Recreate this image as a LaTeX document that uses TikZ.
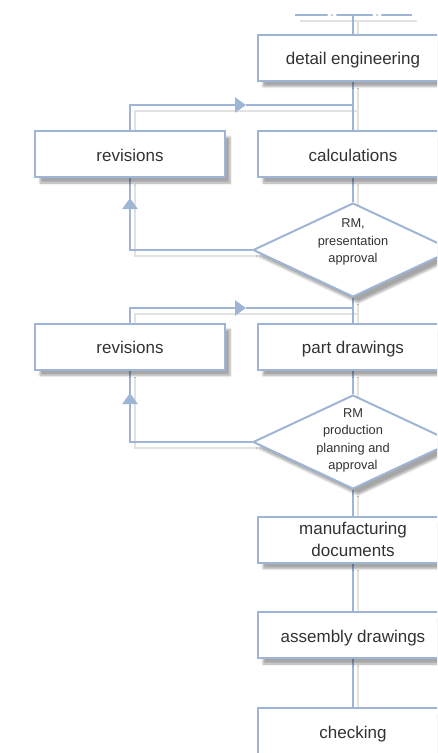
\documentclass[tikz,border=0pt]{standalone}
\usepackage{fontspec}
\setmainfont{Liberation Sans}
\usetikzlibrary{shapes.geometric,shadows.blur,arrows.meta}
\pgfdeclarelayer{background}
\pgfsetlayers{background,main}
\definecolor{ln}{RGB}{158,181,214}
\definecolor{tx}{RGB}{50,50,50}
\definecolor{sh}{RGB}{226,226,226}
\tikzset{
  shd/.style={blur shadow={shadow xshift=5pt, shadow yshift=-6pt, shadow blur steps=6, shadow opacity=35}},
  box/.style={draw=ln, line width=2pt, fill=white, minimum width=190pt, minimum height=46pt,
    inner sep=0pt, text=tx, font=\fontsize{17}{22}\selectfont, align=center, shd},
  oneline/.style={text height=15.5pt, text depth=1.1pt},
  dia/.style={draw=ln, line width=2pt, fill=white, diamond, minimum width=200pt,
    minimum height=94pt, inner sep=0pt, shd},
  dtext/.style={text=tx, font=\fontsize{12.8}{17.6}\selectfont, align=center, inner sep=0pt},
  conn/.style={draw=ln, line width=2.3pt},
  shconn/.style={draw=sh, line width=2.3pt, transform canvas={shift={(5pt,-6pt)}}},
  tipr/.style={-{Triangle[length=11pt,width=15pt]}}
}
\begin{document}
\begin{tikzpicture}[x=1pt,y=-1pt]
\useasboundingbox (0,0) rectangle (437,753);
\clip (0,0) rectangle (437,753);
% nodes
\node[box,oneline] (de)   at (353,57.5) {detail engineering};
\node[box,oneline] (calc) at (353,154) {calculations};
\node[box,oneline] (rev1) at (130,154) {revisions};
\node[dia] (d1)   at (353,250) {};
\node[dtext] (t1) at (353,242) {RM,\\presentation\\approval};
\node[box,oneline] (pd)   at (353,346.5) {part drawings};
\node[box,oneline] (rev2) at (130,346.5) {revisions};
\node[dia] (d2)   at (353,442) {};
\node[dtext] (t2) at (353,440.5) {RM\\production\\planning and\\approval};
\node[box] (mfg)  at (353,539.5) {manufacturing\\documents};
\node[box,oneline] (asm)  at (353,635) {assembly drawings};
\node[box,oneline] (chk)  at (353,731) {checking};
% helper coordinates
\coordinate (top) at (353,15);
\coordinate (j1) at (353,105);
\coordinate (m1) at (246,105);
\coordinate (u1) at (130,198);
\coordinate (j2) at (353,308);
\coordinate (m2) at (246,308);
\coordinate (u2) at (130,393);
\coordinate (ta) at (295,15);
\coordinate (tb) at (412,15);
\begin{pgfonlayer}{background}
  % shadows of connectors
  \begin{scope}[every path/.style={shconn}]
    \draw (top) -- (de.north);
    \draw (ta) -- (tb);
    \draw (de.south) -- (calc.north);
    \draw (rev1.north) |- (j1);
    \draw (d1.west) -| (rev1.south);
    \draw (calc.south) -- (d1.north);
    \draw (d1.south) -- (pd.north);
    \draw (rev2.north) |- (j2);
    \draw (d2.west) -| (rev2.south);
    \draw (pd.south) -- (d2.north);
    \draw (d2.south) -- (mfg.north);
    \draw (mfg.south) -- (asm.north);
    \draw (asm.south) -- (chk.north);
  \end{scope}
  % connectors
  \draw[conn] (top) -- (de.north);
  \draw[draw=ln, line width=1.6pt] (ta) -- (tb);
  \fill[white] (332,15) circle (4.5pt) (377,15) circle (4.5pt);
  \fill[ln] (332,15) circle (1pt) (377,15) circle (1pt);
  \draw[conn] (de.south) -- (calc.north);
  \draw[conn,tipr] (rev1.north) |- (m1);
  \draw[conn] (m1) -- (j1);
  \draw[conn] (d1.west) -| (u1);
  \draw[conn,tipr] (d1.west -| rev1.south) -- (u1);
  \draw[conn] (u1) -- (rev1.south);
  \draw[conn] (calc.south) -- (d1.north);
  \draw[conn] (d1.south) -- (pd.north);
  \draw[conn,tipr] (rev2.north) |- (m2);
  \draw[conn] (m2) -- (j2);
  \draw[conn] (d2.west) -| (u2);
  \draw[conn,tipr] (d2.west -| rev2.south) -- (u2);
  \draw[conn] (u2) -- (rev2.south);
  \draw[conn] (pd.south) -- (d2.north);
  \draw[conn] (d2.south) -- (mfg.north);
  \draw[conn] (mfg.south) -- (asm.north);
  \draw[conn] (asm.south) -- (chk.north);
\end{pgfonlayer}
\end{tikzpicture}
\end{document}
